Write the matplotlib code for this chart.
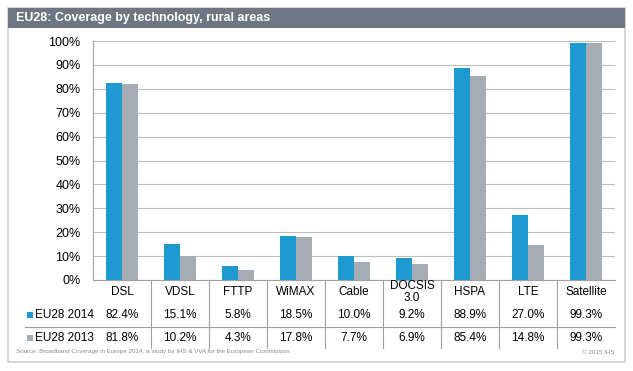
import numpy as np
import matplotlib.pyplot as plt
from matplotlib.patches import Rectangle
import matplotlib.transforms as mtransforms

plt.rcParams['font.family'] = ['Liberation Sans', 'DejaVu Sans']

categories = ['DSL', 'VDSL', 'FTTP', 'WiMAX', 'Cable', 'DOCSIS\n3.0', 'HSPA', 'LTE', 'Satellite']
cov_2014 = [82.4, 15.1, 5.8, 18.5, 10.0, 9.2, 88.9, 27.0, 99.3]
cov_2013 = [81.8, 10.2, 4.3, 17.8, 7.7, 6.9, 85.4, 14.8, 99.3]
series_names = ['EU28 2014', 'EU28 2013']
yticks = np.arange(0, 101, 10)

blue = '#1e9ad0'
grey = '#a5acb3'
W, H = 633, 371
fs = 8.5

fig = plt.figure(figsize=(W / 100, H / 100), dpi=100)

# outer frame + title bar
fig.patches.append(Rectangle((8 / W, 1 - 362 / H), 617 / W, 354 / H, transform=fig.transFigure,
                             facecolor='none', edgecolor='#cfcfcf', lw=1.2))
fig.patches.append(Rectangle((8 / W, 1 - 28 / H), 617 / W, 20 / H, transform=fig.transFigure,
                             facecolor='#6e7681', edgecolor='none'))
fig.text(16 / W, 1 - 18 / H, 'EU28: Coverage by technology, rural areas', color='white',
         fontsize=9, fontweight='bold', va='center', ha='left')

ax = fig.add_axes([93 / W, 1 - 280 / H, 522 / W, 239 / H])
ax.patch.set_alpha(0)
x = np.arange(len(categories))
bw = 0.27
ax.bar(x - bw / 2, cov_2014, bw, color=blue, zorder=3)
ax.bar(x + bw / 2, cov_2013, bw, color=grey, zorder=3)

ax.set_xlim(-0.5, len(categories) - 0.5)
ax.set_ylim(0, 100)
ax.set_yticks(yticks)
ax.set_yticklabels([f'{v}%' for v in yticks], fontsize=9)
ax.tick_params(axis='y', length=0, pad=9)
ax.set_xticks([])
ax.grid(axis='y', color='#bdbdbd', lw=0.8, zorder=0)
for s in ['top', 'right']:
    ax.spines[s].set_visible(False)
ax.spines['left'].set_color('#a0a0a0')
ax.spines['bottom'].set_color('#a0a0a0')

# data table under the chart
tr = mtransforms.blended_transform_factory(ax.transData, ax.transAxes)
row_y = [-0.146, -0.243]
for i, cat in enumerate(categories):
    ax.text(i, -0.05, cat, transform=tr, ha='center', va='center', fontsize=fs,
            linespacing=1.0, clip_on=False)
    ax.text(i, row_y[0], f'{cov_2014[i]:.1f}%', transform=tr, ha='center', va='center',
            fontsize=fs, clip_on=False)
    ax.text(i, row_y[1], f'{cov_2013[i]:.1f}%', transform=tr, ha='center', va='center',
            fontsize=fs, clip_on=False)
for i in range(1, len(categories)):
    ax.plot([i - 0.5, i - 0.5], [0, -0.285], transform=tr, color='#a0a0a0', lw=0.8,
            clip_on=False)
ax.plot([-0.5, len(categories) - 0.5], [-0.197, -0.197], transform=tr, color='#a0a0a0',
        lw=0.8, clip_on=False)
fig.add_artist(plt.Line2D([25 / W, 93 / W], [1 - 327 / H, 1 - 327 / H], color='#a0a0a0', lw=0.8))

# legend labels in table
for name, col, yy in zip(series_names, [blue, grey], [315, 338]):
    fig.patches.append(Rectangle((27 / W, 1 - (yy + 3) / H), 6 / W, 6 / H,
                                 transform=fig.transFigure, facecolor=col, edgecolor='none'))
    fig.text(35 / W, 1 - yy / H, name, fontsize=fs, va='center', ha='left')

fig.text(16 / W, 1 - 352 / H,
         'Source: Broadband Coverage in Europe 2014, a study by IHS & VVA for the European Commission',
         fontsize=4.5, color='#8a8a8a', va='center', ha='left')
fig.text(614 / W, 1 - 352 / H, '© 2015 IHS', fontsize=4.5, color='#8a8a8a', va='center', ha='right')

fig.savefig('out.png', dpi=100)
